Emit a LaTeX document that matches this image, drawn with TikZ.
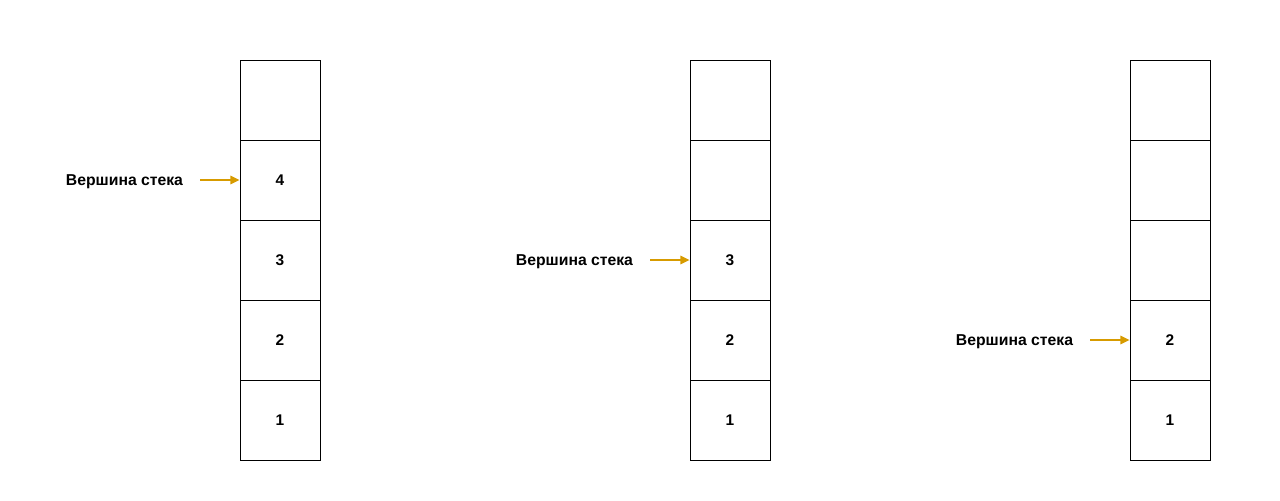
\documentclass[tikz,border=0pt]{standalone}
\usepackage{fontspec}
\setmainfont{Liberation Sans}
\usetikzlibrary{arrows.meta,positioning}
\definecolor{topc}{HTML}{D79B00}

\begin{document}
\begin{tikzpicture}[
		x=0.025cm,y=-0.025cm,
		cell/.style={draw,line width=0.6pt,minimum size=2cm,inner sep=0pt,font=\bfseries\fontsize{11}{13}\selectfont},
		lbl/.style={font=\bfseries\fontsize{11.2}{13}\selectfont,yshift=-1.5pt},
		arrow/.style={-{Triangle[length=6.5pt,width=6pt]},draw=topc,line width=1pt}
		]
		\useasboundingbox (0,0) rectangle (1280,500);
		
		% first stack
		\node[cell] (a5) at (280,100) {};
		\node[cell] (a4) at (280,180) {4};
		\node[cell] (a3) at (280,260) {3};
		\node[cell] (a2) at (280,340) {2};
		\node[cell] (a1) at (280,420) {1};
		
		% second stack
		\node[cell] (b5) at (730,100) {};
		\node[cell] (b4) at (730,180) {};
		\node[cell] (b3) at (730,260) {3};
		\node[cell] (b2) at (730,340) {2};
		\node[cell] (b1) at (730,420) {1};
		
		% third stack
		\node[cell] (c5) at (1170,100) {};
		\node[cell] (c4) at (1170,180) {};
		\node[cell] (c3) at (1170,260) {};
		\node[cell] (c2) at (1170,340) {2};
		\node[cell] (c1) at (1170,420) {1};
		
		% top pointers
		\coordinate (pa) at (200,180);
		\coordinate (pb) at (650,260);
		\coordinate (pc) at (1090,340);
		\node[lbl,left=0.3cm of pa] (ta) {Вершина стека};
		\node[lbl,left=0.3cm of pb] (tb) {Вершина стека};
		\node[lbl,left=0.3cm of pc] (tc) {Вершина стека};
		
		% arrows
		\draw[arrow] (pa) -- (a4.west);
		\draw[arrow] (pb) -- (b3.west);
		\draw[arrow] (pc) -- (c2.west);
	\end{tikzpicture}
\end{document}
